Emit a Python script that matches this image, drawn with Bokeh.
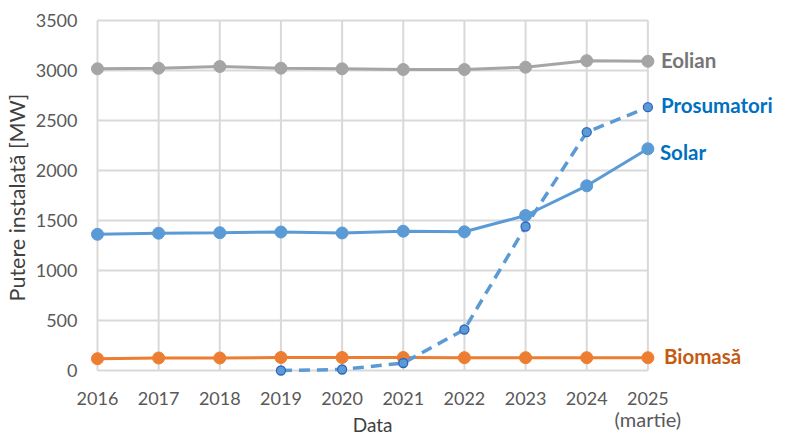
from bokeh.plotting import figure
from bokeh.models import FixedTicker, LinearAxis
from bokeh.core.properties import value
from bokeh.embed import file_html
from bokeh.resources import INLINE

years = [2016, 2017, 2018, 2019, 2020, 2021, 2022, 2023, 2024, 2025]
eolian = [3017, 3023, 3040, 3023, 3017, 3010, 3010, 3033, 3098, 3092]
solar = [1362, 1373, 1378, 1385, 1375, 1393, 1387, 1550, 1847, 2217]
biomasa = [118, 125, 125, 130, 130, 130, 128, 128, 128, 128]
pros_years = [2019, 2020, 2021, 2022, 2023, 2024, 2025]
prosumatori = [0, 10, 75, 410, 1440, 2383, 2633]
y_ticks = [0, 500, 1000, 1500, 2000, 2500, 3000, 3500]
series_names = ["Eolian", "Prosumatori", "Solar", "Biomasă"]
x_title = "Data"
y_title = "Putere instalată [MW]"
last_note = "(martie)"

FONT = "Lato"
GRID = "#D9D9D9"
TICK_COL = "#595959"

p = figure(width=787, height=440, output_backend="svg", toolbar_location=None,
           x_range=(2015.886, 2027.152), y_range=(-60, 3520),
           min_border_left=88, min_border_right=8, min_border_top=18, min_border_bottom=64)
p.outline_line_color = None
p.xgrid.visible = False
p.ygrid.visible = False

# grid lines
p.segment(x0=years, y0=[0]*len(years), x1=years, y1=[3500]*len(years),
          line_color=GRID, line_width=2)
p.segment(x0=[years[0]]*len(y_ticks), y0=y_ticks, x1=[years[-1]]*len(y_ticks), y1=y_ticks,
          line_color=GRID, line_width=2)

def style_axis(ax, size="18px", color=TICK_COL):
    ax.axis_line_color = None
    ax.major_tick_line_color = None
    ax.minor_tick_line_color = None
    ax.major_tick_out = 0
    ax.major_tick_in = 0
    ax.minor_tick_out = 0
    ax.minor_tick_in = 0
    ax.major_label_text_font = FONT
    ax.major_label_text_font_size = size
    ax.major_label_text_color = color

xa = p.xaxis[0]
style_axis(xa)
xa.ticker = FixedTicker(ticks=years)
xa.major_label_standoff = 15

ya = p.yaxis[0]
style_axis(ya)
ya.ticker = FixedTicker(ticks=y_ticks)
ya.major_label_standoff = 13
ya.axis_label = y_title
ya.axis_label_standoff = 3
ya.axis_label_text_font = FONT
ya.axis_label_text_font_size = "21.5px"
ya.axis_label_text_font_style = "normal"
ya.axis_label_text_color = "#404040"

# second row: "(martie)" under the last year
ax2 = LinearAxis(ticker=FixedTicker(ticks=[years[-1]]),
                 major_label_overrides={years[-1]: last_note})
style_axis(ax2, "20px", TICK_COL)
ax2.major_label_standoff = -1
p.add_layout(ax2, "below")

# x title under the middle of the plot area
mid = (years[0] + years[-1]) / 2
ax3 = LinearAxis(ticker=FixedTicker(ticks=[mid]), major_label_overrides={mid: x_title})
style_axis(ax3, "19px", "#404040")
ax3.major_label_standoff = -21
p.add_layout(ax3, "below")

# series
p.line(years, eolian, line_color="#A5A5A5", line_width=3)
p.scatter(years, eolian, size=12, fill_color="#A5A5A5", line_color="#A5A5A5")
p.line(years, biomasa, line_color="#ED7D31", line_width=3)
p.scatter(years, biomasa, size=12, fill_color="#ED7D31", line_color="#ED7D31")
p.line(years, solar, line_color="#5B9BD5", line_width=3)
p.scatter(years, solar, size=12, fill_color="#5B9BD5", line_color="#5B9BD5")
p.line(pros_years, prosumatori, line_color="#5B9BD5", line_width=3.5, line_dash="11 7")
p.scatter(pros_years, prosumatori, size=9, fill_color="#5B9BD5", line_color="#2E64C0", line_width=1.3)

# end labels
ends = [(series_names[0], eolian[-1], "#767676", -1, 13),
        (series_names[1], prosumatori[-1], "#0070C0", -2, 13),
        (series_names[2], solar[-1], "#0070C0", 3, 12),
        (series_names[3], biomasa[-1], "#C55A11", -2, 16)]
for txt, yv, col, yo, xo in ends:
    p.text(x=[years[-1]], y=[yv], text=[txt], x_offset=xo, y_offset=yo,
           text_font=value(FONT), text_font_style="bold", text_font_size="20.5px",
           text_color=col, text_baseline="middle", text_align="left")

open("out.html", "w").write(file_html(p, INLINE))
